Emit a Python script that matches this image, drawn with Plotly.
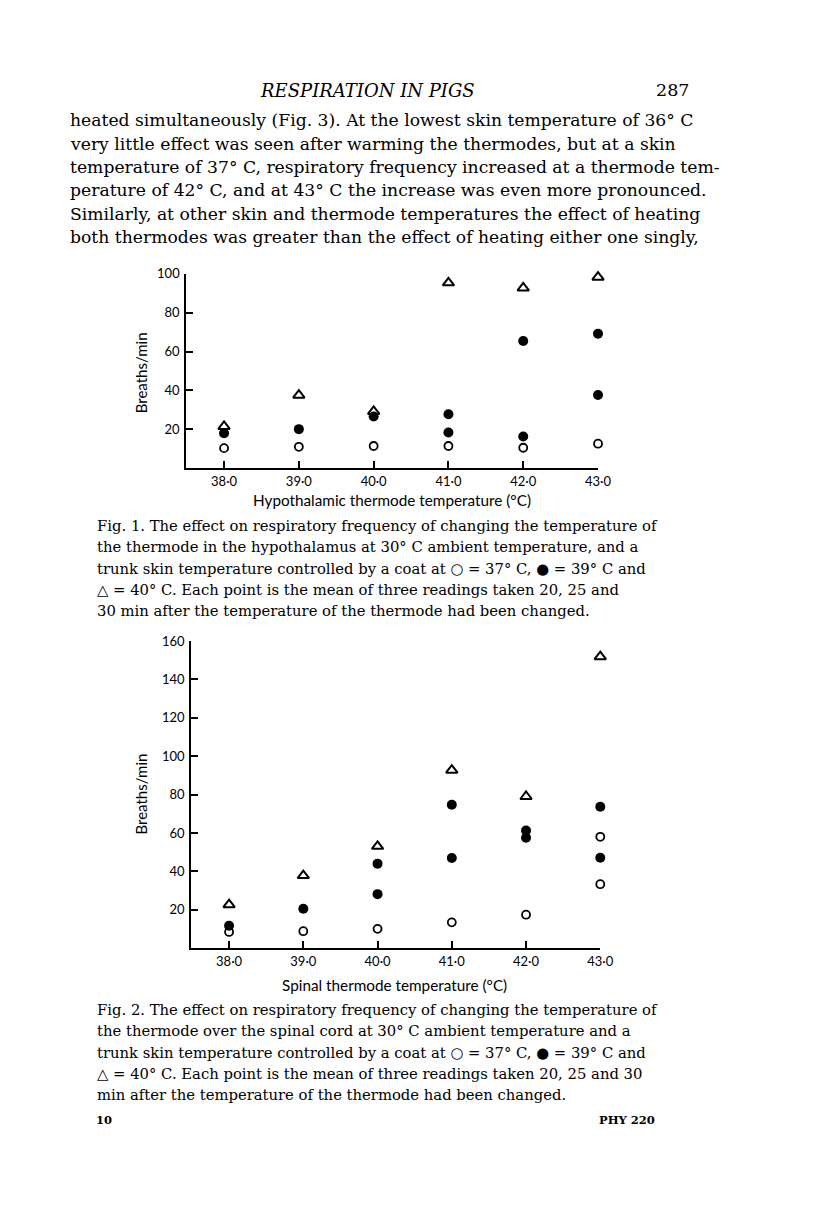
import plotly.graph_objects as go

# ---------------- data ----------------
temps = [38.0, 39.0, 40.0, 41.0, 42.0, 43.0]
tick_text = ["38·0", "39·0", "40·0", "41·0", "42·0", "43·0"]

# Fig. 1 (hypothalamic thermode)
f1_open_x = [38.0, 39.0, 40.0, 41.0, 42.0, 43.0]
f1_open_y = [10.2, 10.9, 11.3, 11.3, 10.4, 12.5]
f1_fill_x = [38.0, 39.0, 40.0, 41.0, 41.0, 42.0, 42.0, 43.0, 43.0]
f1_fill_y = [17.9, 20.0, 26.5, 27.7, 18.3, 65.4, 16.2, 69.2, 37.6]
f1_tri_x = [38.0, 39.0, 40.0, 41.0, 42.0, 43.0]
f1_tri_y = [21.4, 37.5, 29.1, 95.4, 92.8, 98.3]

# Fig. 2 (spinal thermode)
f2_open_x = [38.0, 39.0, 40.0, 41.0, 42.0, 43.0, 43.0]
f2_open_y = [8.4, 8.8, 10.0, 13.4, 17.4, 58.0, 33.3]
f2_fill_x = [38.0, 39.0, 40.0, 40.0, 41.0, 41.0, 42.0, 42.0, 43.0, 43.0]
f2_fill_y = [11.6, 20.5, 44.0, 28.1, 74.7, 46.9, 61.3, 57.5, 73.7, 47.1]
f2_tri_x = [38.0, 39.0, 40.0, 41.0, 42.0, 43.0]
f2_tri_y = [22.6, 37.8, 53.0, 92.7, 79.0, 151.9]

f1_yticks = [20, 40, 60, 80, 100]
f2_yticks = [20, 40, 60, 80, 100, 120, 140, 160]

body_lines = [
    "heated simultaneously (Fig. 3). At the lowest skin temperature of 36° C",
    "very little effect was seen after warming the thermodes, but at a skin",
    "temperature of 37° C, respiratory frequency increased at a thermode tem-",
    "perature of 42° C, and at 43° C the increase was even more pronounced.",
    "Similarly, at other skin and thermode temperatures the effect of heating",
    "both thermodes was greater than the effect of heating either one singly,",
]
cap1_lines = [
    "Fig. 1. The effect on respiratory frequency of changing the temperature of",
    "the thermode in the hypothalamus at 30° C ambient temperature, and a",
    "trunk skin temperature controlled by a coat at ○ = 37° C, ● = 39° C and",
    "△ = 40° C. Each point is the mean of three readings taken 20, 25 and",
    "30 min after the temperature of the thermode had been changed.",
]
cap2_lines = [
    "Fig. 2. The effect on respiratory frequency of changing the temperature of",
    "the thermode over the spinal cord at 30° C ambient temperature and a",
    "trunk skin temperature controlled by a coat at ○ = 37° C, ● = 39° C and",
    "△ = 40° C. Each point is the mean of three readings taken 20, 25 and 30",
    "min after the temperature of the thermode had been changed.",
]

# ---------------- layout helpers ----------------
W, H = 816, 1212
def px(x):
    return x / W
def py(y):
    return 1 - y / H

SANS = "Lato"
SERIF = "DejaVu Serif"

fig = go.Figure()

def add_series(xs, ys, sym, size, lw, xa, ya):
    fig.add_trace(go.Scatter(
        x=xs, y=ys, mode="markers", xaxis=xa, yaxis=ya, cliponaxis=False,
        showlegend=False, hoverinfo="skip",
        marker=dict(symbol=sym, size=size, color="black",
                    line=dict(color="black", width=lw)),
    ))

add_series(f1_open_x, f1_open_y, "circle-open", 8, 1.8, "x", "y")
add_series(f1_fill_x, f1_fill_y, "circle", 10, 0, "x", "y")
add_series(f1_tri_x, f1_tri_y, "triangle-up-open", 10, 2, "x", "y")
add_series(f2_open_x, f2_open_y, "circle-open", 8, 1.8, "x2", "y2")
add_series(f2_fill_x, f2_fill_y, "circle", 10, 0, "x2", "y2")
add_series(f2_tri_x, f2_tri_y, "triangle-up-open", 10, 2, "x2", "y2")

axis_common = dict(showline=True, linecolor="black", linewidth=2,
                   ticks="inside", tickcolor="black", tickwidth=2, ticklen=7,
                   showgrid=False, zeroline=False,
                   tickfont=dict(family=SANS, size=13, color="black"))

fig.update_layout(
    width=W, height=H, margin=dict(l=0, r=0, t=0, b=0),
    paper_bgcolor="white", plot_bgcolor="white",
    xaxis=dict(domain=[px(189.3), px(607.7)], range=[37.495, 43.0],
               tickvals=temps, ticktext=tick_text, anchor="y",
               ticklabelstandoff=0, **axis_common),
    yaxis=dict(domain=[py(463.0), py(267.7)], range=[0, 100],
               tickvals=f1_yticks, anchor="x", ticklabelstandoff=2, **axis_common),
    xaxis2=dict(domain=[px(194.3), px(610.0)], range=[37.49, 43.0],
                tickvals=temps, ticktext=tick_text, anchor="y2",
                ticklabelstandoff=0, **axis_common),
    yaxis2=dict(domain=[py(946.3), py(637.3)], range=[0, 160],
                tickvals=f2_yticks, anchor="x2", ticklabelstandoff=2, **axis_common),
)

ann = []
def text(x, y, s, size, family=SERIF, xanchor="left", italic=False, bold=False, angle=0):
    ann.append(dict(x=px(x), y=py(y), xref="paper", yref="paper", text=s,
                    showarrow=False, xanchor=xanchor, yanchor="middle", textangle=angle,
                    font=dict(family=family, size=size, color="black",
                              style="italic" if italic else "normal",
                              weight="bold" if bold else "normal")))

# header
text(262, 83, "RESPIRATION IN PIGS", 18, xanchor="left", italic=True)
text(702, 83, "287", 17.5, xanchor="right")

for i, line in enumerate(body_lines):
    text(69, 113 + 23.5 * i, line, 17.2)

for i, line in enumerate(cap1_lines):
    text(97, 521 + 21.5 * i, line, 14.8)
for i, line in enumerate(cap2_lines):
    text(97, 1008 + 21.5 * i, line, 14.8)

# chart axis titles
text(398, 495, "Hypothalamic thermode temperature (°C)", 15.3, family=SANS, xanchor="center")
text(143, 367, "Breaths/min", 15, family=SANS, xanchor="center", angle=-90)
text(401, 983, "Spinal thermode temperature (°C)", 15.3, family=SANS, xanchor="center")
text(143, 791, "Breaths/min", 15, family=SANS, xanchor="center", angle=-90)

# footer
text(96, 1119, "10", 11.5, bold=True)
text(668, 1119, "PHY 220", 11.5, xanchor="right", bold=True)

fig.update_layout(annotations=ann)
fig.write_html("out.html", config={"displayModeBar": False},
               post_script="document.body.style.margin='0px';document.body.style.padding='0px';")
